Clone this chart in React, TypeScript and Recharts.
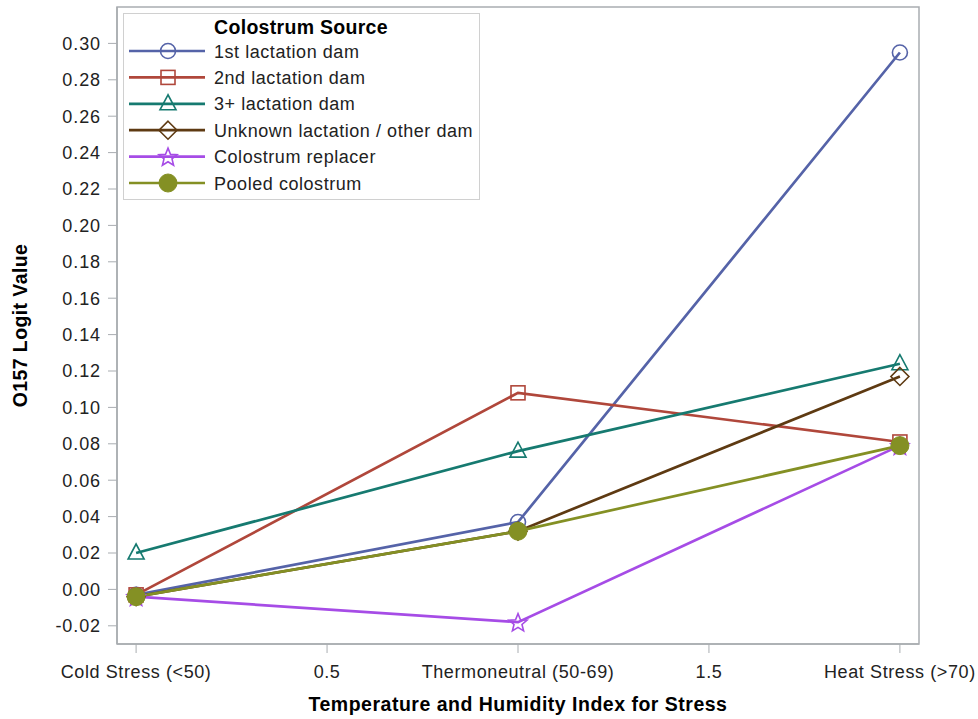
import React from 'react';
import { LineChart, Line, XAxis, YAxis, ReferenceArea } from 'recharts';

const xValues = [0, 1, 2];
const xTickValues = [0, 0.5, 1, 1.5, 2];
const xTickLabels = ['Cold Stress (<50)', '0.5', 'Thermoneutral (50-69)', '1.5', 'Heat Stress (>70)'];
const yTicks = [-0.02, 0, 0.02, 0.04, 0.06, 0.08, 0.1, 0.12, 0.14, 0.16, 0.18, 0.2, 0.22, 0.24, 0.26, 0.28, 0.3];

const seriesNames = [
  '1st lactation dam',
  '2nd lactation dam',
  '3+ lactation dam',
  'Unknown lactation / other dam',
  'Colostrum replacer',
  'Pooled colostrum',
];
const first = [-0.003, 0.037, 0.295];
const second = [-0.003, 0.108, 0.081];
const third = [0.02, 0.076, 0.124];
const unknown = [-0.004, 0.032, 0.117];
const replacer = [-0.004, -0.018, 0.079];
const pooled = [-0.004, 0.032, 0.079];

const seriesValues = [first, second, third, unknown, replacer, pooled];
const keys = ['s1', 's2', 's3', 's4', 's5', 's6'];
const colors = ['#5563A8', '#B0473B', '#167A70', '#5E3A12', '#A64CE6', '#849024'];
const shapes = ['circle', 'square', 'triangle', 'diamond', 'star', 'dot'];

const data = xValues.map((x, i) => {
  const row: any = { x };
  keys.forEach((k, j) => (row[k] = seriesValues[j][i]));
  return row;
});

const FONT = '"Liberation Sans", Arial, sans-serif';

function starPoints(cx: number, cy: number, R: number, r: number) {
  const pts: string[] = [];
  for (let i = 0; i < 10; i++) {
    const a = -Math.PI / 2 + (i * Math.PI) / 5;
    const rad = i % 2 === 0 ? R : r;
    pts.push(`${cx + rad * Math.cos(a)},${cy + rad * Math.sin(a)}`);
  }
  return pts.join(' ');
}

function Marker({ shape, cx, cy, color }: { shape: string; cx: number; cy: number; color: string }) {
  const sw = 1.6;
  switch (shape) {
    case 'circle':
      return <circle cx={cx} cy={cy} r={7.5} fill="none" stroke={color} strokeWidth={sw} />;
    case 'square':
      return <rect x={cx - 7} y={cy - 7} width={14} height={14} fill="none" stroke={color} strokeWidth={sw} />;
    case 'triangle':
      return (
        <polygon
          points={`${cx},${cy - 9} ${cx - 8},${cy + 6} ${cx + 8},${cy + 6}`}
          fill="none"
          stroke={color}
          strokeWidth={sw}
        />
      );
    case 'diamond':
      return (
        <polygon
          points={`${cx},${cy - 9} ${cx + 9},${cy} ${cx},${cy + 9} ${cx - 9},${cy}`}
          fill="none"
          stroke={color}
          strokeWidth={sw}
        />
      );
    case 'star':
      return <polygon points={starPoints(cx, cy + 1, 9.5, 4.2)} fill="none" stroke={color} strokeWidth={sw} />;
    default:
      return <circle cx={cx} cy={cy} r={9} fill={color} stroke={color} strokeWidth={1} />;
  }
}

const makeDot = (shape: string, color: string) => (props: any) => {
  const { cx, cy, index } = props;
  if (cx == null || cy == null) return <g key={index} />;
  return (
    <g key={`${shape}-${index}`}>
      <Marker shape={shape} cx={cx} cy={cy} color={color} />
    </g>
  );
};

const LegendBox = () => (
  <svg width={358} height={188} style={{ display: 'block' }}>
    <rect x={0.5} y={0.5} width={356} height={186} fill="#fff" stroke="#D0D0D0" strokeWidth={1} />
    <text x={178} y={21} textAnchor="middle" fontFamily={FONT} fontWeight="bold" fontSize={19.5} letterSpacing={0.3} fill="#000">
      Colostrum Source
    </text>
    {seriesNames.map((name, i) => {
      const y = 38 + i * 26.4;
      return (
        <g key={name}>
          <line x1={6} x2={82} y1={y} y2={y} stroke={colors[i]} strokeWidth={2.7} />
          <Marker shape={shapes[i]} cx={45} cy={y} color={colors[i]} />
          <text x={91} y={y + 6.5} fontFamily={FONT} fontSize={18} letterSpacing={0.55} fill="#222">
            {name}
          </text>
        </g>
      );
    })}
  </svg>
);

const YLabel = (props: any) => {
  const vb = props.viewBox || { x: 0, y: 0, height: 0 };
  const cx = 27;
  const cy = vb.y + vb.height / 2;
  return (
    <text
      x={cx}
      y={cy}
      transform={`rotate(-90, ${cx}, ${cy})`}
      textAnchor="middle"
      fontFamily={FONT}
      fontWeight="bold"
      fontSize={19.5}
      letterSpacing={0.4}
      fill="#000"
    >
      O157 Logit Value
    </text>
  );
};

export default function App() {
  return (
    <div style={{ position: 'absolute', left: 0, top: 0, width: 978, height: 719, background: '#fff' }}>
      <LineChart width={978} height={719} data={data} margin={{ top: 7, right: 59, bottom: 0, left: 0 }}>
        <ReferenceArea
          x1={-0.05}
          x2={2.05}
          y1={-0.03}
          y2={0.32}
          fill="none"
          stroke="#A9ADB1"
          strokeWidth={1.5}
          ifOverflow="visible"
        />
        <XAxis
          dataKey="x"
          type="number"
          domain={[-0.05, 2.05]}
          ticks={xTickValues}
          tickFormatter={(v: number) => xTickLabels[xTickValues.indexOf(v)] ?? String(v)}
          height={75}
          tickSize={9}
          tickMargin={12}
          stroke="#A9ADB1"
          axisLine={{ stroke: '#A9ADB1', strokeWidth: 1.5 }}
          tick={{ fill: '#222', fontSize: 18, fontFamily: FONT, letterSpacing: 0.6 }}
          interval={0}
          allowDataOverflow
          label={{
            value: 'Temperature and Humidity Index for Stress',
            position: 'insideBottom',
            offset: 8,
            fontFamily: FONT,
            fontWeight: 'bold',
            fontSize: 19.5,
            letterSpacing: 0.5,
            fill: '#000',
          }}
        />
        <YAxis
          type="number"
          domain={[-0.03, 0.32]}
          ticks={yTicks}
          tickFormatter={(v: number) => v.toFixed(2)}
          width={117}
          tickSize={9}
          tickMargin={7}
          stroke="#A9ADB1"
          axisLine={{ stroke: '#A9ADB1', strokeWidth: 1.5 }}
          tick={{ fill: '#222', fontSize: 18, fontFamily: FONT, letterSpacing: 0.9 }}
          interval={0}
          allowDataOverflow
          label={<YLabel />}
        />
        {keys.map((k, i) => (
          <Line
            key={k}
            dataKey={k}
            name={seriesNames[i]}
            stroke={colors[i]}
            strokeWidth={2.7}
            dot={makeDot(shapes[i], colors[i])}
            activeDot={false}
            isAnimationActive={false}
            type="linear"
          />
        ))}
      </LineChart>
      <div style={{ position: 'absolute', left: 123, top: 13 }}>
        <LegendBox />
      </div>
    </div>
  );
}
